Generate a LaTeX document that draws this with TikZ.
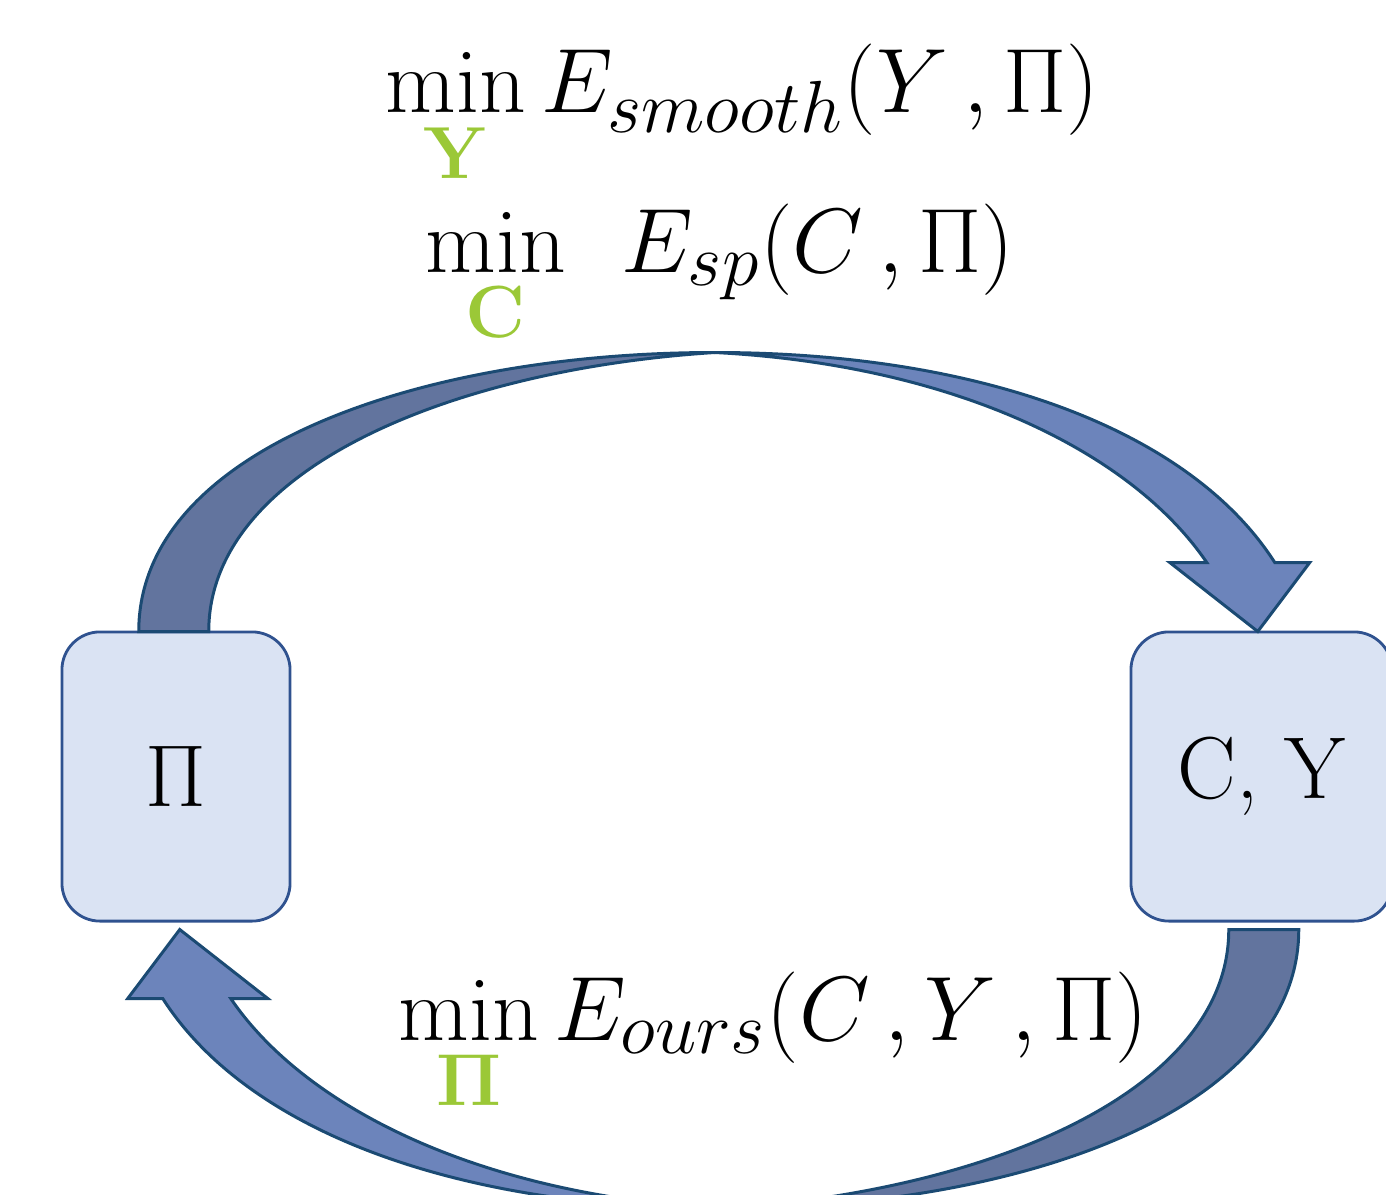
\RequirePackage{fix-cm}
\documentclass[tikz,border=0pt]{standalone}
\usepackage{amsmath}
\usetikzlibrary{calc}
\DeclareMathSizes{26}{26}{21}{16}
\definecolor{boxfill}{HTML}{DAE3F3}
\definecolor{boxline}{HTML}{2F528F}
\definecolor{arrowdark}{HTML}{62749E}
\definecolor{arrowlight}{HTML}{6C84BB}
\definecolor{arrowline}{HTML}{1B4A73}
\definecolor{pickgreen}{HTML}{9BC837}
\begin{document}
\begin{tikzpicture}[x=0.01cm,y=-0.01cm,
  box/.style={draw=boxline,fill=boxfill,line width=0.8pt,rounded corners=10.8pt,minimum width=2.28cm,minimum height=2.89cm,font=\fontsize{25}{30}\selectfont},
  formula/.style={anchor=base west,inner sep=0pt,font=\fontsize{26}{31}\selectfont},
  back/.style={draw=arrowline,line width=0.85pt,fill=arrowdark},
  front/.style={draw=arrowline,line width=0.85pt,fill=arrowlight},
]
\useasboundingbox (0,0) rectangle (1386,1194);
\node[box] (pi) at (176,776.5) {$\Pi$};
\node[box,minimum width=2.61cm] (cy) at (1261.5,776.5) {C, Y};
\coordinate (mid) at ($(pi.north)!0.5!(cy.south)$);
% upper arrow, then the same shape turned round for the lower one
\begin{scope}[shift={(mid)}]
\draw[back] (-580,-145) .. controls (-580,-327) and (-299,-424) .. (-4,-424) .. controls (-269,-407) and (-510,-307) .. (-510,-145) -- cycle;
\draw[front] (-4,-424) .. controls (261,-424) and (471,-347) .. (556,-214) -- (591,-214) -- (539,-145) -- (451,-214) -- (488,-214) .. controls (411,-327) and (231,-412) .. (-4,-424) -- cycle;
\end{scope}
\begin{scope}[shift={($(mid)+(0,8)$)},rotate=180]
\draw[back] (-580,-145) .. controls (-580,-327) and (-299,-424) .. (-4,-424) .. controls (-269,-407) and (-510,-307) .. (-510,-145) -- cycle;
\draw[front] (-4,-424) .. controls (261,-424) and (471,-347) .. (556,-214) -- (591,-214) -- (539,-145) -- (451,-214) -- (488,-214) .. controls (411,-327) and (231,-412) .. (-4,-424) -- cycle;
\end{scope}
\node[formula] (smooth) at (385,113) {$\min\limits_{\textcolor{pickgreen}{\mathbf{Y}}} E_{smooth}(Y\,,\Pi)$};
\node[formula] (sp) at (425,272) {$\min\limits_{\textcolor{pickgreen}{\mathbf{C}}}\;\, E_{sp}(C\,,\Pi)$};
\node[formula] (ours) at (398,1040) {$\min\limits_{\textcolor{pickgreen}{\mathbf{\Pi}}} E_{ours}(C\,,Y\,,\Pi)$};
\end{tikzpicture}
\end{document}
